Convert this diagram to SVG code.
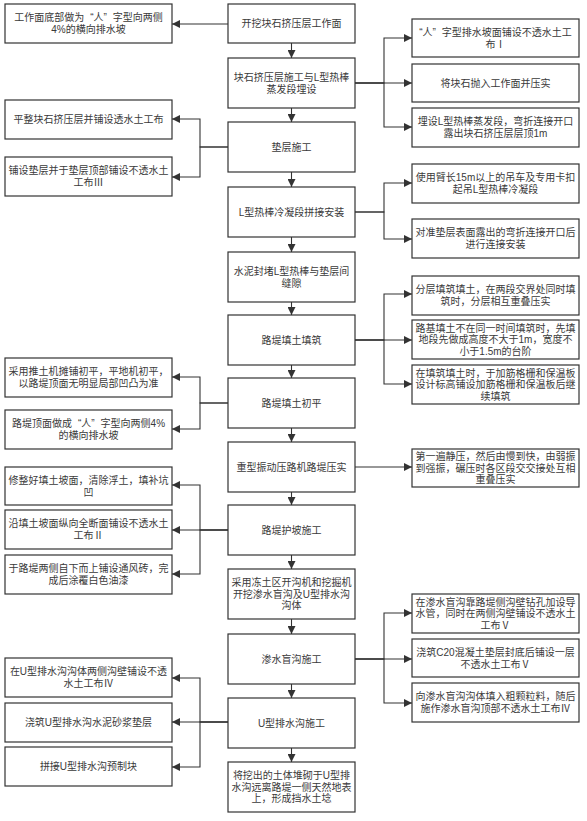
<svg xmlns="http://www.w3.org/2000/svg" width="587" height="821" viewBox="0 0 587 821">
<style>
.b{fill:#fff;stroke:#333;stroke-width:1.2}
.t{font-family:"Liberation Sans","Noto Sans CJK SC",sans-serif;font-size:10px;fill:#3a3a3a;text-anchor:middle}
.c{fill:none;stroke:#333;stroke-width:1.1}
</style>
<defs>
<marker id="a" viewBox="0 0 10 10" refX="10" refY="5" markerWidth="9" markerHeight="8" markerUnits="userSpaceOnUse" orient="auto"><path d="M0,0L10,5L0,10z" fill="#333"/></marker>
</defs>
<rect width="587" height="821" fill="#fff"/>
<g id="connectors" class="c" marker-end="url(#a)">
<path d="M291.5,43V58"/><path d="M291.5,108V122"/><path d="M291.5,172V187"/><path d="M291.5,237V252"/>
<path d="M291.5,302V315"/><path d="M291.5,365V378"/><path d="M291.5,428V442"/><path d="M291.5,492V505"/>
<path d="M291.5,555V569"/><path d="M291.5,619V634"/><path d="M291.5,684V698"/><path d="M291.5,748V762"/>
<path d="M228,24H172"/>
<path d="M355,83H384V38H412"/><path d="M355,83H412"/><path d="M355,83H384V127H412"/>
<path d="M228,147H200V119H172"/><path d="M228,147H200V177H172"/>
<path d="M355,212H384V183H412"/><path d="M355,212H384V239H412"/>
<path d="M355,340H384V294H412"/><path d="M355,340H412"/><path d="M355,340H384V384H412"/>
<path d="M228,403H200V377H172"/><path d="M228,403H200V429H172"/>
<path d="M355,467H412"/>
<path d="M228,530H200V485H172"/><path d="M228,530H172"/><path d="M228,530H200V574H172"/>
<path d="M355,659H384V613H412"/><path d="M355,659H412"/><path d="M355,659H384V703H412"/>
<path d="M228,722H200V678H172"/><path d="M228,722H172"/><path d="M228,722H200V767H172"/>
</g>
<g id="n1"><rect class="b" x="228" y="4" width="127" height="39"/><text class="t" x="291.5" y="27">开挖块石挤压层工作面</text></g>
<g id="n2"><rect class="b" x="228" y="58" width="127" height="50"/><text class="t" y="80.5"><tspan x="291.5">块石挤压层施工与L型热棒</tspan><tspan x="291.5" dy="12">蒸发段埋设</tspan></text></g>
<g id="n3"><rect class="b" x="228" y="122" width="127" height="50"/><text class="t" x="291.5" y="150.5">垫层施工</text></g>
<g id="n4"><rect class="b" x="228" y="187" width="127" height="50"/><text class="t" x="291.5" y="215.5">L型热棒冷凝段拼接安装</text></g>
<g id="n5"><rect class="b" x="228" y="252" width="127" height="50"/><text class="t" y="274.5"><tspan x="291.5">水泥封堵L型热棒与垫层间</tspan><tspan x="291.5" dy="12">缝隙</tspan></text></g>
<g id="n6"><rect class="b" x="228" y="315" width="127" height="50"/><text class="t" x="291.5" y="343.5">路堤填土填筑</text></g>
<g id="n7"><rect class="b" x="228" y="378" width="127" height="50"/><text class="t" x="291.5" y="406.5">路堤填土初平</text></g>
<g id="n8"><rect class="b" x="228" y="442" width="127" height="50"/><text class="t" x="291.5" y="470.5">重型振动压路机路堤压实</text></g>
<g id="n9"><rect class="b" x="228" y="505" width="127" height="50"/><text class="t" x="291.5" y="533.5">路堤护坡施工</text></g>
<g id="n10"><rect class="b" x="228" y="569" width="127" height="50"/><text class="t" y="586"><tspan x="291.5">采用冻土区开沟机和挖掘机</tspan><tspan x="291.5" dy="11.5">开挖渗水盲沟及U型排水沟</tspan><tspan x="291.5" dy="11.5">沟体</tspan></text></g>
<g id="n11"><rect class="b" x="228" y="634" width="127" height="50"/><text class="t" x="291.5" y="662.5">渗水盲沟施工</text></g>
<g id="n12"><rect class="b" x="228" y="698" width="127" height="50"/><text class="t" x="291.5" y="726.5">U型排水沟施工</text></g>
<g id="n13"><rect class="b" x="228" y="762" width="127" height="50"/><text class="t" y="779"><tspan x="291.5">将挖出的土体堆砌于U型排</tspan><tspan x="291.5" dy="11.5">水沟远离路堤一侧天然地表</tspan><tspan x="291.5" dy="11.5">上，形成挡水土埝</tspan></text></g>
<g id="r1"><rect class="b" x="412" y="19" width="167" height="38"/><text class="t" y="35.5"><tspan x="495.5">“人”<tspan dx="6">字</tspan>型排水坡面铺设不透水土工</tspan><tspan x="495.5" dy="12">布Ⅰ</tspan></text></g>
<g id="r2"><rect class="b" x="412" y="64" width="167" height="38"/><text class="t" x="495.5" y="86.5">将块石抛入工作面并压实</text></g>
<g id="r3"><rect class="b" x="412" y="108" width="167" height="39"/><text class="t" y="125"><tspan x="495.5">埋设L型热棒蒸发段，弯折连接开口</tspan><tspan x="495.5" dy="12">露出块石挤压层层顶1m</tspan></text></g>
<g id="r4"><rect class="b" x="412" y="164" width="167" height="39"/><text class="t" y="181"><tspan x="495.5">使用臂长15m以上的吊车及专用卡扣</tspan><tspan x="495.5" dy="12">起吊L型热棒冷凝段</tspan></text></g>
<g id="r5"><rect class="b" x="412" y="219" width="167" height="39"/><text class="t" y="236"><tspan x="495.5">对准垫层表面露出的弯折连接开口后</tspan><tspan x="495.5" dy="12">进行连接安装</tspan></text></g>
<g id="r6"><rect class="b" x="412" y="276" width="167" height="39"/><text class="t" y="293"><tspan x="495.5">分层填筑填土，在两段交界处同时填</tspan><tspan x="495.5" dy="12">筑时，分层相互重叠压实</tspan></text></g>
<g id="r7"><rect class="b" x="412" y="320" width="167" height="39"/><text class="t" y="331.5"><tspan x="495.5">路基填土不在同一时间填筑时，先填</tspan><tspan x="495.5" dy="11.5">地段先做成高度不大于1m，宽度不</tspan><tspan x="495.5" dy="11.5">小于1.5m的台阶</tspan></text></g>
<g id="r8"><rect class="b" x="412" y="365" width="167" height="39"/><text class="t" y="376.5"><tspan x="495.5">在填筑填土时，于加筋格栅和保温板</tspan><tspan x="495.5" dy="11.5">设计标高铺设加筋格栅和保温板后继</tspan><tspan x="495.5" dy="11.5">续填筑</tspan></text></g>
<g id="r9"><rect class="b" x="412" y="449" width="167" height="38"/><text class="t" y="460"><tspan x="495.5">第一遍静压，然后由慢到快，由弱振</tspan><tspan x="495.5" dy="11.5">到强振，碾压时各区段交交接处互相</tspan><tspan x="495.5" dy="11.5">重叠压实</tspan></text></g>
<g id="r10"><rect class="b" x="412" y="594" width="167" height="39"/><text class="t" y="605.5"><tspan x="495.5">在渗水盲沟靠路堤侧沟壁钻孔加设导</tspan><tspan x="495.5" dy="11.5">水管，同时在两侧沟壁铺设不透水土</tspan><tspan x="495.5" dy="11.5">工布Ⅴ</tspan></text></g>
<g id="r11"><rect class="b" x="412" y="639" width="167" height="38"/><text class="t" y="655.5"><tspan x="495.5">浇筑C20混凝土垫层封底后铺设一层</tspan><tspan x="495.5" dy="12">不透水土工布Ⅴ</tspan></text></g>
<g id="r12"><rect class="b" x="412" y="683" width="167" height="39"/><text class="t" y="700"><tspan x="495.5">向渗水盲沟沟体填入粗颗粒料，随后</tspan><tspan x="495.5" dy="12">施作渗水盲沟顶部不透水土工布Ⅳ</tspan></text></g>
<g id="l1"><rect class="b" x="5" y="4" width="167" height="39"/><text class="t" y="21"><tspan x="88.5">工作面底部做为<tspan dx="6">“</tspan>人”<tspan dx="6">字</tspan>型向两侧</tspan><tspan x="88.5" dy="12">4%的横向排水坡</tspan></text></g>
<g id="l2"><rect class="b" x="5" y="100" width="167" height="39"/><text class="t" x="88.5" y="123">平整块石挤压层并铺设透水土工布</text></g>
<g id="l3"><rect class="b" x="5" y="157" width="167" height="39"/><text class="t" y="174"><tspan x="88.5">铺设垫层并于垫层顶部铺设不透水土</tspan><tspan x="88.5" dy="12">工布Ⅲ</tspan></text></g>
<g id="l4"><rect class="b" x="5" y="358" width="167" height="39"/><text class="t" y="375"><tspan x="88.5">采用推土机摊铺初平，平地机初平，</tspan><tspan x="88.5" dy="12">以路堤顶面无明显局部凹凸为准</tspan></text></g>
<g id="l5"><rect class="b" x="5" y="410" width="167" height="39"/><text class="t" y="427"><tspan x="88.5">路堤顶面做成<tspan dx="6">“</tspan>人”<tspan dx="6">字</tspan>型向两侧4%</tspan><tspan x="88.5" dy="12">的横向排水坡</tspan></text></g>
<g id="l6"><rect class="b" x="5" y="467" width="167" height="38"/><text class="t" y="483.5"><tspan x="88.5">修整好填土坡面，清除浮土，填补坑</tspan><tspan x="88.5" dy="12">凹</tspan></text></g>
<g id="l7"><rect class="b" x="5" y="510" width="167" height="39"/><text class="t" y="527"><tspan x="88.5">沿填土坡面纵向全断面铺设不透水土</tspan><tspan x="88.5" dy="12">工布Ⅱ</tspan></text></g>
<g id="l8"><rect class="b" x="5" y="555" width="167" height="39"/><text class="t" y="572"><tspan x="88.5">于路堤两侧自下而上铺设通风砖，完</tspan><tspan x="88.5" dy="12">成后涂覆白色油漆</tspan></text></g>
<g id="l9"><rect class="b" x="5" y="658" width="167" height="39"/><text class="t" y="675"><tspan x="88.5">在U型排水沟沟体两侧沟壁铺设不透</tspan><tspan x="88.5" dy="12">水土工布Ⅳ</tspan></text></g>
<g id="l10"><rect class="b" x="5" y="703" width="167" height="39"/><text class="t" x="88.5" y="726">浇筑U型排水沟水泥砂浆垫层</text></g>
<g id="l11"><rect class="b" x="5" y="747" width="167" height="39"/><text class="t" x="88.5" y="770">拼接U型排水沟预制块</text></g>
</svg>
